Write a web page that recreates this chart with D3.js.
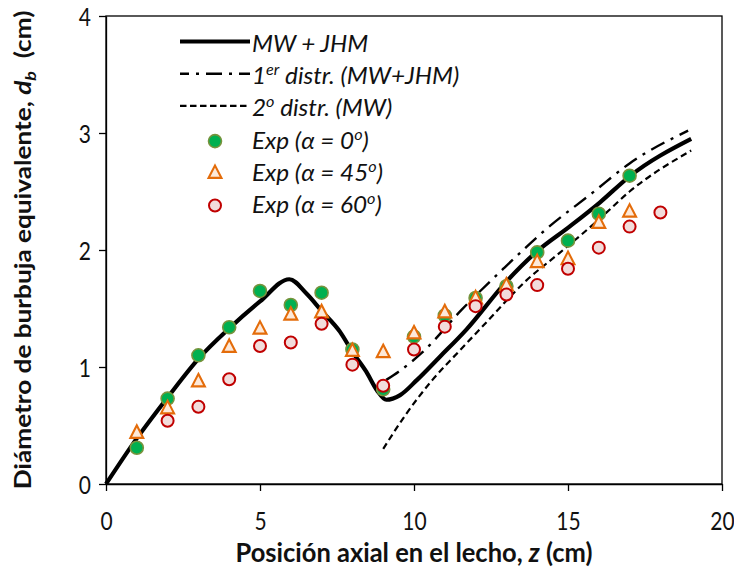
<!DOCTYPE html>
<html lang="es">
<head>
    <meta charset="UTF-8">
    <title>Diámetro de burbuja equivalente</title>
    <script src="https://d3js.org/d3.v7.min.js"></script>
    <style>
        body { margin: 0; background: #fff; }
        svg { display: block; font-family: Lato, "Open Sans", sans-serif; }
    </style>
</head>
<body>
    <div id="chart"></div>

    <script>
        // experimental points, z in cm, d_b in cm
        const zExp = [1, 2, 3, 4, 5, 6, 7, 8, 9, 10, 11, 12, 13, 14, 15, 16, 17];
        const exp0 = [0.31, 0.73, 1.10, 1.34, 1.65, 1.53, 1.635, 1.15, 0.81, 1.26, 1.44, 1.59, 1.69, 1.98, 2.08, 2.31, 2.635];
        const exp45 = [0.43, 0.64, 0.87, 1.165, 1.32, 1.44, 1.46, 1.13, 1.12, 1.28, 1.46, 1.58, 1.69, 1.89, 1.915, 2.225, 2.32];
        const zExp60 = [2, 3, 4, 5, 6, 7, 8, 9, 10, 11, 12, 13, 14, 15, 16, 17, 18];
        const exp60 = [0.54, 0.66, 0.895, 1.18, 1.21, 1.37, 1.02, 0.84, 1.15, 1.345, 1.52, 1.62, 1.70, 1.84, 2.02, 2.20, 2.32];

        // model curves
        const zModel = [0, 1, 2, 3, 4, 5, 5.95, 6.5, 7, 7.6, 8.0, 8.45, 8.8, 9.1, 9.55, 10.1, 10.85, 11.7, 13.0, 14.0, 15.05, 16.05, 17.0, 19.0];
        const dModel = [0, 0.39, 0.74, 1.07, 1.33, 1.56, 1.75, 1.63, 1.48, 1.30, 1.13, 0.96, 0.80, 0.72, 0.76, 0.89, 1.09, 1.32, 1.73, 1.99, 2.20, 2.41, 2.63, 2.95];
        const zFirst = [9.1, 9.5, 10.25, 11.55, 12.9, 14.3, 15.8, 17.0, 18.9];
        const dFirst = [0.89, 0.96, 1.12, 1.49, 1.84, 2.18, 2.49, 2.74, 3.02];
        const zSecond = [9.0, 9.75, 10.6, 11.5, 12.2, 13.65, 14.75, 16.0, 17.0, 19.0];
        const dSecond = [0.30, 0.60, 0.89, 1.145, 1.34, 1.74, 1.98, 2.26, 2.50, 2.85];

        const xTicks = [0, 5, 10, 15, 20];
        const yTicks = [0, 1, 2, 3, 4];

        const width = 734;
        const height = 571;
        const pLeft = 106, pRight = 722, pTop = 16, pBottom = 484;
        const SY = 1.2; // text in the original is a bit stretched vertically

        const svg = d3.select("#chart")
                      .append("svg")
                      .attr("width", width)
                      .attr("height", height);

        const x = d3.scaleLinear().domain([0, 20]).range([pLeft, pRight]);
        const y = d3.scaleLinear().domain([0, 4]).range([pBottom, pTop]);

        // frame
        svg.append("rect")
           .attr("x", pLeft).attr("y", pTop)
           .attr("width", pRight - pLeft).attr("height", pBottom - pTop)
           .attr("fill", "none").attr("stroke", "#000").attr("stroke-width", 1.3);

        // axes
        const xAxis = svg.append("g")
           .attr("transform", `translate(0,${pBottom})`)
           .call(d3.axisBottom(x).tickValues(xTicks).tickFormat(d3.format("d")).tickSize(7).tickSizeOuter(0));
        const yAxis = svg.append("g")
           .attr("transform", `translate(${pLeft},0)`)
           .call(d3.axisLeft(y).tickValues(yTicks).tickFormat(d3.format("d")).tickSize(7).tickSizeOuter(0));

        [xAxis, yAxis].forEach(a => {
            a.select(".domain").attr("stroke", "#000").attr("stroke-width", 1.3);
            a.selectAll(".tick line").attr("stroke", "#000").attr("stroke-width", 1.3);
            a.selectAll(".tick text")
             .attr("font-family", "Lato, sans-serif")
             .attr("font-size", 21)
             .attr("fill", "#111")
             .attr("y", 0).attr("x", 0).attr("dy", null);
        });
        xAxis.selectAll(".tick text")
             .attr("text-anchor", "middle")
             .attr("transform", `translate(0,46) scale(1,${SY})`);
        yAxis.selectAll(".tick text")
             .attr("text-anchor", "end")
             .attr("transform", `translate(-15,9) scale(1,${SY})`);

        // axis titles
        const xt = svg.append("text")
           .attr("transform", `translate(${(pLeft + pRight) / 2},562) scale(1,1.05)`)
           .attr("text-anchor", "middle")
           .attr("font-size", 25.5).attr("font-weight", "bold").attr("fill", "#111");
        xt.append("tspan").text("Posición axial en el lecho, ");
        xt.append("tspan").attr("font-style", "italic").text("z");
        xt.append("tspan").text(" (cm)");

        const yt = svg.append("text")
           .attr("transform", `translate(31,${(pTop + pBottom) / 2}) rotate(-90) scale(1.19,1)`)
           .attr("text-anchor", "middle")
           .attr("font-size", 22).attr("font-weight", "bold").attr("fill", "#111");
        yt.append("tspan").text("Diámetro de burbuja equivalente, ");
        yt.append("tspan").attr("font-style", "italic").text("d");
        yt.append("tspan").attr("font-style", "italic").attr("font-size", 15).attr("dy", 5).text("b");
        yt.append("tspan").attr("dy", -5).text("\u00a0 (cm)");

        // model lines
        const line = d3.line()
            .x(d => x(d[0]))
            .y(d => y(d[1]))
            .curve(d3.curveMonotoneX);

        svg.append("path")
           .datum(d3.zip(zSecond, dSecond))
           .attr("d", line)
           .attr("fill", "none").attr("stroke", "#000")
           .attr("stroke-width", 2.2).attr("stroke-dasharray", "6.5,4");
        svg.append("path")
           .datum(d3.zip(zFirst, dFirst))
           .attr("d", line)
           .attr("fill", "none").attr("stroke", "#000")
           .attr("stroke-width", 2.4).attr("stroke-dasharray", "15,7,3,7");
        svg.append("path")
           .datum(d3.zip(zModel, dModel))
           .attr("d", line)
           .attr("fill", "none").attr("stroke", "#000")
           .attr("stroke-width", 4.2).attr("stroke-linejoin", "round");

        // experimental markers
        const tri = d3.symbol().type(d3.symbolTriangle).size(72);

        function green(g) {
            g.attr("r", 6.5).attr("fill", "#00B050").attr("stroke", "#77933C").attr("stroke-width", 1.6);
        }
        function orange(g) {
            g.attr("d", tri).attr("fill", "#FDE9D9").attr("stroke", "#E46C0A").attr("stroke-width", 2);
        }
        function red(g) {
            g.attr("r", 6).attr("fill", "#F2DCDB").attr("stroke", "#C00000").attr("stroke-width", 2);
        }

        svg.append("g").selectAll("circle")
           .data(d3.zip(zExp, exp0))
           .enter().append("circle")
           .attr("cx", d => x(d[0])).attr("cy", d => y(d[1]))
           .call(green);

        svg.append("g").selectAll("path")
           .data(d3.zip(zExp, exp45))
           .enter().append("path")
           .attr("transform", d => `translate(${x(d[0])},${y(d[1])}) scale(1,1.12)`)
           .call(orange);

        svg.append("g").selectAll("circle")
           .data(d3.zip(zExp60, exp60))
           .enter().append("circle")
           .attr("cx", d => x(d[0])).attr("cy", d => y(d[1]))
           .call(red);

        // legend
        const legend = svg.append("g");
        const lgX0 = 180, lgX1 = 250, lgText = 252, lgMark = 215;
        const rowY = i => 52 + i * 32.2;

        const lineRows = [
            { w: 4.2, dash: null },
            { w: 2.4, dash: "9,7,3,7,16,7,3,7,16" },
            { w: 2.2, dash: "6.5,3.5" }
        ];
        lineRows.forEach((r, i) => {
            legend.append("line")
                  .attr("x1", lgX0).attr("x2", lgX1)
                  .attr("y1", rowY(i) - 10.5).attr("y2", rowY(i) - 10.5)
                  .attr("stroke", "#000").attr("stroke-width", r.w)
                  .attr("stroke-dasharray", r.dash);
        });

        function legendText(i) {
            return legend.append("text")
                  .attr("transform", `translate(${lgText},${rowY(i)}) scale(1.08,1)`)
                  .attr("font-size", 22.5).attr("font-style", "italic").attr("fill", "#111");
        }
        function sup(t, s) {
            t.append("tspan").attr("dy", -9).attr("font-size", 15).text(s);
            return t.append("tspan").attr("dy", 9);
        }

        legendText(0).text("MW + JHM");
        let t = legendText(1);
        t.append("tspan").text("1");
        sup(t, "er").text(" distr. (MW+JHM)");
        t = legendText(2);
        t.append("tspan").text("2");
        sup(t, "o").text(" distr. (MW)");

        ["0", "45", "60"].forEach((a, k) => {
            const tt = legendText(3 + k);
            tt.append("tspan").text(`Exp (\u03b1 = ${a}`);
            sup(tt, "o").text(")");
        });

        legend.append("circle").attr("cx", lgMark).attr("cy", rowY(3) - 7.5).call(green);
        legend.append("path")
              .attr("transform", `translate(${lgMark},${rowY(4) - 7}) scale(1,1.12)`)
              .call(orange);
        legend.append("circle").attr("cx", lgMark).attr("cy", rowY(5) - 7.5).call(red);
    </script>
</body>
</html>
